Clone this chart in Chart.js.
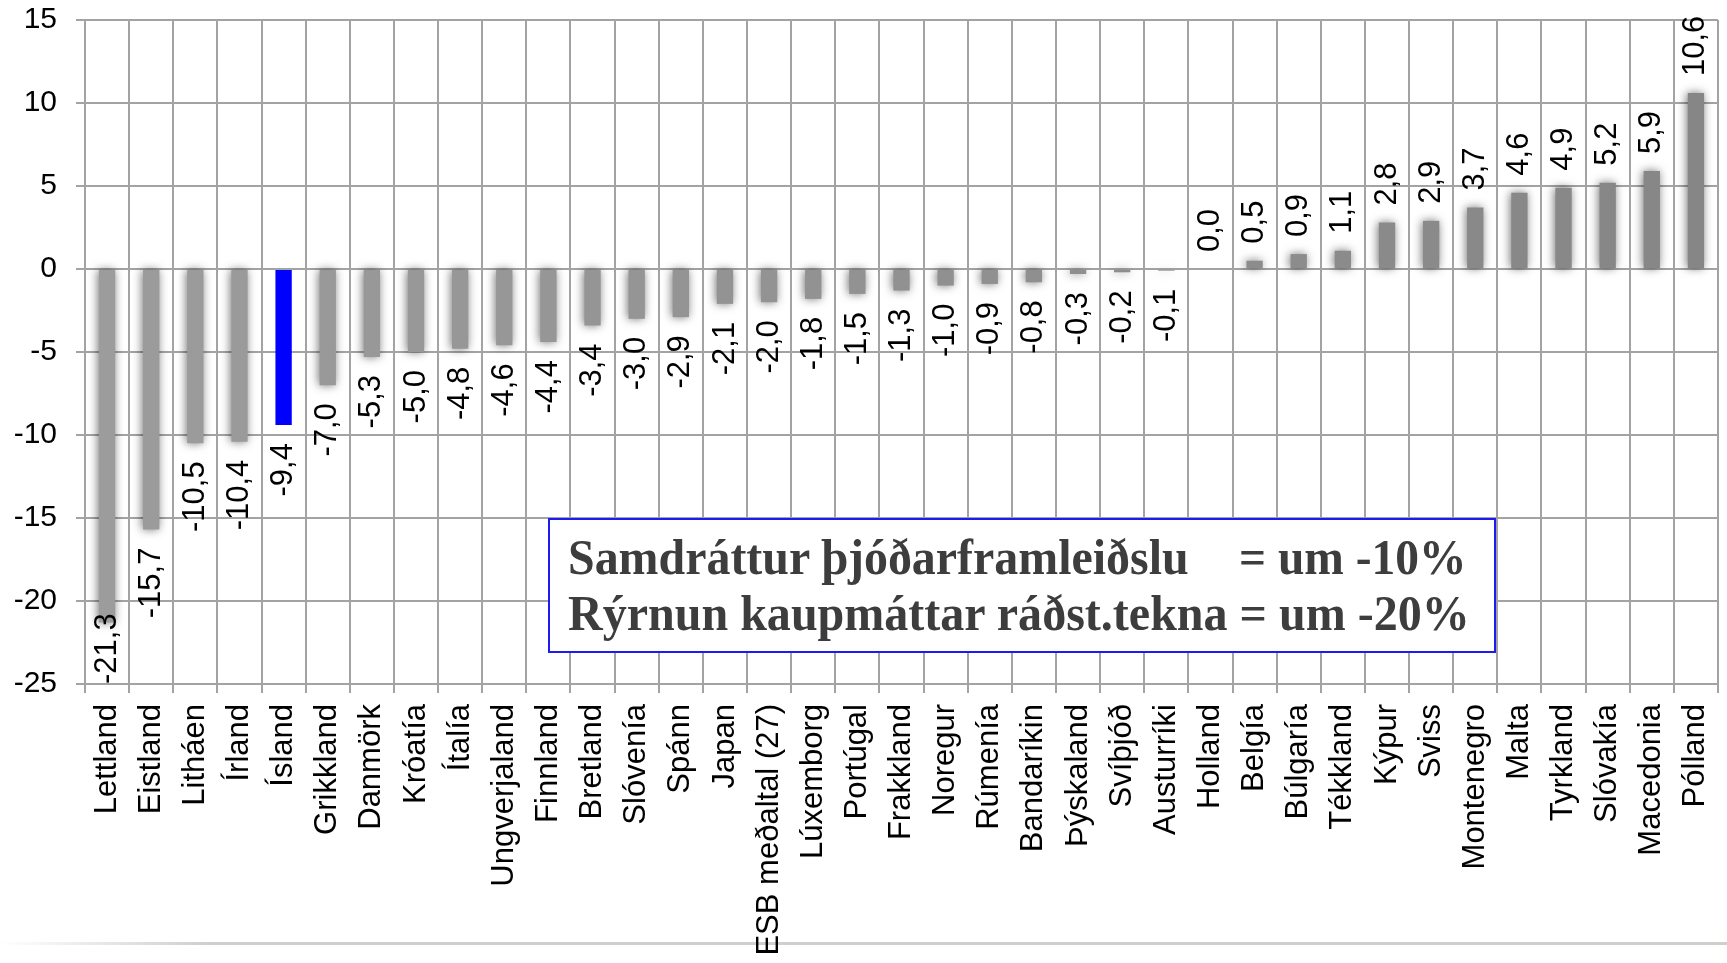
<!DOCTYPE html>
<html>
<head>
<meta charset="utf-8">
<script src="https://cdn.jsdelivr.net/npm/chart.js@4.4.0/dist/chart.umd.min.js"></script>
<style>
  html, body { margin: 0; padding: 0; background: #fff; overflow: hidden; }
  #wrap { position: relative; width: 1727px; height: 963px; }
  #rule { position: absolute; left: 0; top: 942px; width: 1727px; height: 3px;
          background: linear-gradient(to right, rgba(200,200,200,0) 0%, #cfcfcb 12%, #cfcfcb 100%); }
  #chart { position: absolute; left: 0; top: 0; }
  #note { position: absolute; left: 548px; top: 518px; width: 944px; height: 131px;
          border: 2px solid #1c1cf0; background: #fff; }
  .txt { position: absolute; white-space: nowrap; font-family: "Liberation Serif", serif;
         font-weight: bold; font-size: 50px; line-height: 50px; color: #3d3d3d;
         transform-origin: 0 0; }
</style>
</head>
<body>
<div id="wrap">
  <div id="rule"></div>
  <canvas id="chart" width="1727" height="963"></canvas>
  <div id="note"></div>
  <span class="txt" data-w="621" style="left:568px; top:532px;">Samdráttur þjóðarframleiðslu</span>
  <span class="txt" data-w="228" style="left:1239px; top:532px;">= um -10%</span>
  <span class="txt" data-w="902" style="left:568px; top:588px;">Rýrnun kaupmáttar ráðst.tekna = um -20%</span>
</div>
<script>
// Verg landsframleiðsla, breyting (%) eftir löndum
const categories = ['Lettland', 'Eistland', 'Litháen', 'Írland', 'Ísland', 'Grikkland', 'Danmörk',
  'Króatía', 'Ítalía', 'Ungverjaland', 'Finnland', 'Bretland', 'Slóvenía', 'Spánn', 'Japan',
  'ESB meðaltal (27)', 'Lúxemborg', 'Portúgal', 'Frakkland', 'Noregur', 'Rúmenía', 'Bandaríkin',
  'Þýskaland', 'Svíþjóð', 'Austurríki', 'Holland', 'Belgía', 'Búlgaría', 'Tékkland', 'Kýpur',
  'Sviss', 'Montenegro', 'Malta', 'Tyrkland', 'Slóvakía', 'Macedonia', 'Pólland'];
const values = [-21.3, -15.7, -10.5, -10.4, -9.4, -7.0, -5.3, -5.0, -4.8, -4.6, -4.4, -3.4, -3.0,
  -2.9, -2.1, -2.0, -1.8, -1.5, -1.3, -1.0, -0.9, -0.8, -0.3, -0.2, -0.1, 0.0, 0.5, 0.9, 1.1,
  2.8, 2.9, 3.7, 4.6, 4.9, 5.2, 5.9, 10.6];
const highlight = 'Ísland';
const yMin = -25;
const yMax = 15;
const yStep = 5;

// grey bars get slightly darker towards the right, like the original
const greyColors = categories.map((c, i) => {
  const g = Math.round(0x9c - (0x9c - 0x86) * i / (categories.length - 1));
  return 'rgb(' + g + ',' + g + ',' + g + ')';
});
const greyData = values.map((v, i) => categories[i] === highlight ? null : v);
const blueData = values.map((v, i) => categories[i] === highlight ? v : null);

const fmt = v => v.toFixed(1).replace('.', ',');

// soft shadow under the grey bars
const shadowPlugin = {
  id: 'barShadow',
  beforeDatasetDraw(chart, args) {
    if (args.index !== 0) return;
    const ctx = chart.ctx;
    ctx.save();
    ctx.shadowColor = 'rgba(0,0,0,0.55)';
    ctx.shadowBlur = 10;
    ctx.shadowOffsetX = -1;
    ctx.shadowOffsetY = 0;
  },
  afterDatasetDraw(chart, args) {
    if (args.index !== 0) return;
    chart.ctx.restore();
  }
};

// rotated value labels above / below each bar
const valueLabels = {
  id: 'valueLabels',
  afterDatasetsDraw(chart) {
    const ctx = chart.ctx;
    const xs = chart.scales.x, ys = chart.scales.y;
    const area = chart.chartArea;
    ctx.save();
    ctx.font = '31px "Liberation Sans", Arial, sans-serif';
    ctx.fillStyle = '#000';
    ctx.textBaseline = 'middle';
    values.forEach((v, i) => {
      const txt = fmt(v);
      const w = ctx.measureText(txt).width;
      const x = xs.getPixelForValue(i);
      const yEnd = ys.getPixelForValue(v);
      ctx.save();
      if (v >= 0) {
        ctx.translate(x, yEnd - 17);
        ctx.rotate(-Math.PI / 2);
        ctx.textAlign = 'left';
      } else {
        let top = yEnd + 18;
        if (top + w > area.bottom) top = area.bottom - w;
        ctx.translate(x, top);
        ctx.rotate(-Math.PI / 2);
        ctx.textAlign = 'right';
      }
      ctx.fillText(txt, 0, 0);
      ctx.restore();
    });
    ctx.restore();
  }
};

const gridColor = '#a3a3a3';

new Chart(document.getElementById('chart'), {
  type: 'bar',
  data: {
    labels: categories,
    datasets: [
      { data: greyData, backgroundColor: greyColors, grouped: false,
        barPercentage: 0.37, categoryPercentage: 1, borderWidth: 0 },
      { data: blueData, backgroundColor: '#0000ff', grouped: false,
        barPercentage: 0.37, categoryPercentage: 1, borderWidth: 0 }
    ]
  },
  options: {
    responsive: false,
    animation: false,
    layout: { padding: { top: 20, right: 9, left: 0, bottom: 0 } },
    plugins: {
      legend: { display: false },
      tooltip: { enabled: false }
    },
    scales: {
      x: {
        afterFit: s => { s.height = 279; s.paddingLeft = 0; s.paddingRight = 0; },
        grid: { color: gridColor, lineWidth: 2, tickLength: 9, offset: true },
        border: { color: gridColor, width: 2 },
        ticks: {
          autoSkip: false, maxRotation: 90, minRotation: 90, padding: 11,
          color: '#000', font: { family: '"Liberation Sans", Arial, sans-serif', size: 31 }
        }
      },
      y: {
        min: yMin, max: yMax,
        afterFit: s => { s.width = 85; s.paddingTop = 0; s.paddingBottom = 0; },
        grid: { color: gridColor, lineWidth: 2, tickLength: 9 },
        border: { color: gridColor, width: 2 },
        ticks: {
          stepSize: yStep, padding: 19, color: '#000',
          font: { family: '"Liberation Sans", Arial, sans-serif', size: 30 }
        }
      }
    }
  },
  plugins: [shadowPlugin, valueLabels]
});

// squeeze the note text to the condensed look of the original
document.querySelectorAll('.txt').forEach(el => {
  const target = +el.dataset.w;
  el.style.transform = 'scaleX(' + (target / el.offsetWidth) + ')';
});
</script>
</body>
</html>
